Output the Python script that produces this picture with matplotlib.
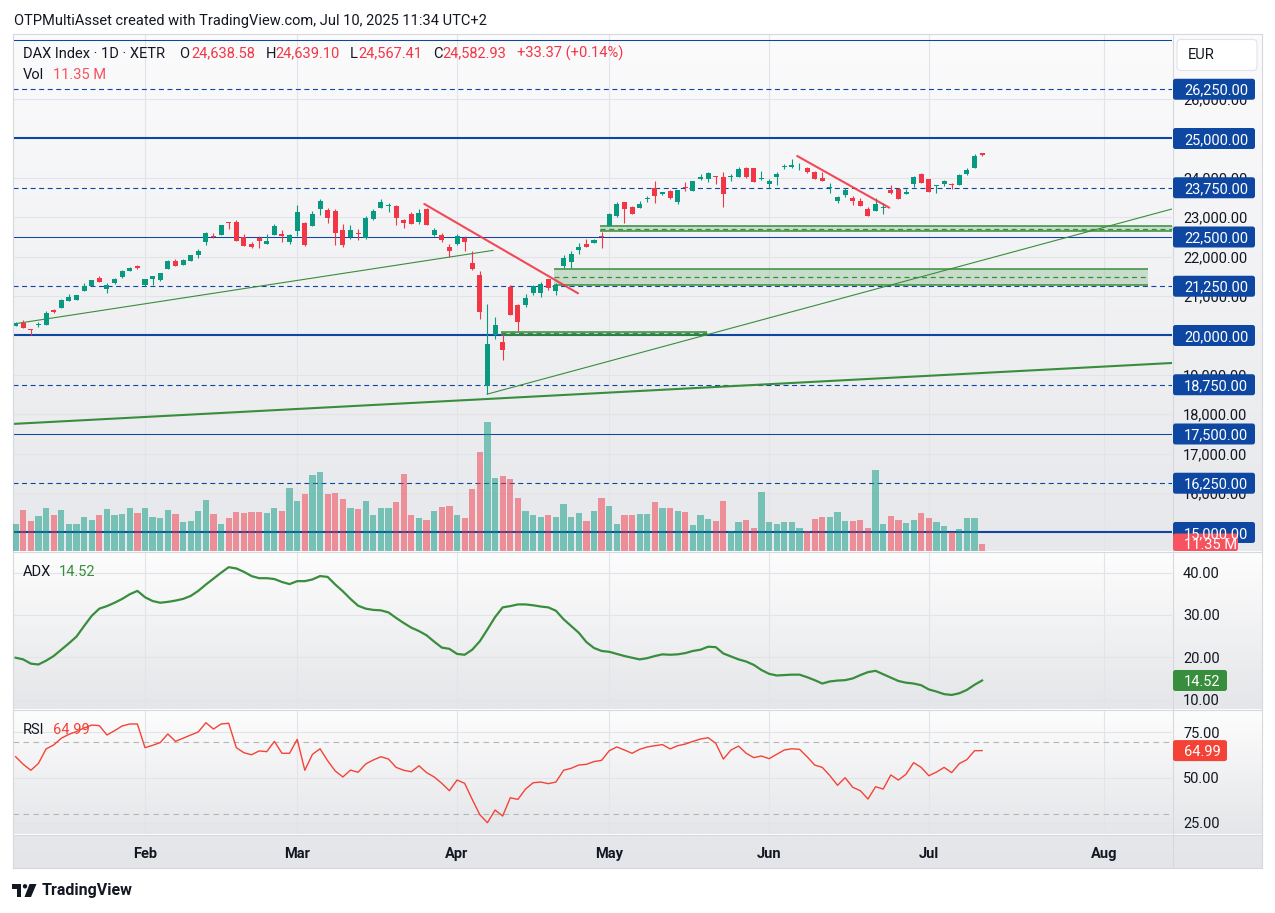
import numpy as np
import pandas as pd
import matplotlib
matplotlib.use('Agg')
import matplotlib.pyplot as plt
from matplotlib.colors import LinearSegmentedColormap
from matplotlib.patches import FancyBboxPatch, Polygon, Circle
from matplotlib.transforms import IdentityTransform
from matplotlib.lines import Line2D

plt.rcParams['font.family'] = ['Roboto', 'DejaVu Sans']

# ---------------- data ----------------
first_day, axis_end = '2025-01-09', '2025-08-29'
holidays = ['2025-04-18', '2025-04-21', '2025-05-01']

opens = [
    20250, 20317, 20140, 20255, 20275, 20648, 20706, 20884, 20909, 21138, 21265, 21468, 21189, 21341, 21493, 21645, 21772,
    21290, 21434, 21409, 21688, 21891, 21789, 21899, 22043, 22381, 22525, 22559, 22860, 22881, 22491, 22314, 22483, 22331, 22559, 22576, 22373,
    22661, 22855, 22788, 23211, 23185, 23160, 22678, 22492, 22584, 22466, 22957, 23245, 23295, 23287, 22932, 23084, 22881, 23211, 22551, 22551, 22255,
    22323, 22483, 21840, 21527, 18727, 20004, 19827, 21223, 20774, 20783, 21071, 21088, 21426, 21139, 21764, 21866, 22179, 22323, 22348, 22520,
    22779, 23033, 23388, 23270, 23245, 23465, 23735, 23583, 23668, 23388, 23750, 23676, 23964, 23964, 24040, 24023, 24015, 24031, 24251, 24251, 23964,
    23854, 24014, 24280, 24268, 24315, 24251, 24158, 24006, 23745, 23414, 23575, 23481, 23422, 23202, 23168, 23240, 23693, 23718, 23592, 23854, 24099,
    23972, 23790, 23845, 23845, 23828, 24090, 24260, 24638.58,
]
highs = [
    20351, 20393, 20165, 20334, 20613, 20673, 20926, 21053, 21036, 21341, 21417, 21510, 21332, 21468, 21662, 21738, 21789,
    21443, 21518, 21595, 21916, 21941, 21941, 22043, 22196, 22627, 22593, 22813, 22872, 22923, 22576, 22381, 22525, 22568, 22830, 22677, 22567,
    23321, 22880, 23151, 23464, 23236, 23220, 22822, 22805, 22712, 23033, 23202, 23465, 23372, 23312, 22957, 23126, 23202, 23225, 22737, 22610, 22323,
    22576, 22534, 22137, 21629, 20800, 20470, 20039, 21274, 20800, 21045, 21290, 21358, 21443, 21341, 22052, 22154, 22348, 22450, 22450, 22619,
    23110, 23380, 23395, 23280, 23414, 23541, 23930, 23651, 23693, 23700, 23888, 23930, 24090, 24141, 24057, 24150, 24091, 24285, 24268, 24260, 24167,
    23964, 24150, 24353, 24480, 24370, 24285, 24167, 24150, 23862, 23549, 23752, 23549, 23481, 23270, 23481, 23371, 23820, 23725, 23710, 24048, 24133,
    23980, 23828, 23947, 23871, 24091, 24260, 24607, 24639.10,
]
lows = [
    20240, 20190, 20013, 20224, 20265, 20580, 20698, 20876, 20900, 21129, 21257, 21358, 21087, 21299, 21468, 21637, 21696,
    21265, 21290, 21392, 21679, 21764, 21781, 21891, 21975, 22297, 22483, 22551, 22703, 22390, 22272, 22229, 22229, 22322, 22551, 22381, 22331,
    22534, 22280, 22780, 23066, 22864, 22297, 22255, 22441, 22424, 22441, 22940, 23237, 23135, 22805, 22737, 22822, 22830, 22805, 22534, 22382, 21984,
    22297, 22154, 21663, 20428, 18507, 19903, 19379, 20510, 20123, 20715, 21028, 20969, 21146, 21028, 21705, 21722, 22077, 22240, 22340, 22230,
    22770, 23020, 22864, 23084, 23228, 23397, 23372, 23566, 23473, 23346, 23676, 23660, 23947, 23888, 23854, 23270, 23921, 24014, 24006, 23896, 23955,
    23752, 23820, 24234, 24251, 24201, 24116, 23970, 23921, 23625, 23363, 23515, 23312, 23287, 23033, 23160, 23084, 23600, 23465, 23583, 23778, 23862,
    23642, 23625, 23795, 23710, 23820, 24065, 24252, 24567.41,
]
closes = [
    20326, 20199, 20130, 20270, 20571, 20605, 20901, 20978, 21028, 21265, 21409, 21366, 21290, 21441, 21637, 21721, 21721,
    21434, 21510, 21586, 21891, 21772, 21925, 22035, 22145, 22601, 22491, 22796, 22850, 22407, 22280, 22246, 22407, 22398, 22779, 22525, 22551,
    23134, 22297, 23075, 23414, 22982, 22610, 22297, 22678, 22575, 22991, 23160, 23389, 23304, 22991, 22864, 22839, 23118, 22813, 22678, 22424, 22154,
    22526, 22373, 21680, 20605, 19785, 20267, 19641, 20529, 20351, 20952, 21257, 21299, 21197, 21282, 21967, 22069, 22255, 22255, 22433, 22509,
    23084, 23345, 23219, 23092, 23329, 23475, 23549, 23634, 23498, 23693, 23740, 23921, 24031, 24133, 24031, 23600, 24023, 24235, 24014, 23904, 23998,
    23921, 24107, 24290, 24336, 24325, 24158, 23980, 23930, 23755, 23515, 23702, 23414, 23295, 23041, 23346, 23250, 23608, 23473, 23651, 24031, 23879,
    23651, 23800, 23921, 23820, 24074, 24209, 24556, 24582.93,
]
volume_m = [
    43.7, 66.4, 48.6, 56.7, 69.7, 58.3, 66.4, 43.7, 43.7, 55.1, 50.2, 58.3, 68.0, 58.3, 59.9, 69.7, 61.6,
    69.7, 55.1, 53.5, 66.4, 59.9, 47.0, 48.6, 64.8, 82.6, 59.9, 43.7, 53.5, 63.2, 61.6, 63.2, 63.2, 61.6, 69.7, 64.8, 102.1,
    81.0, 92.3, 123.1, 128.0, 92.3, 94.0, 84.2, 69.7, 68.0, 81.0, 58.3, 69.7, 69.7, 79.4, 124.7, 58.3, 53.5, 50.2, 64.8, 71.3, 72.9,
    58.3, 53.5, 100.4, 160.4, 209.0, 118.3, 121.5, 116.6, 85.9, 64.8, 58.3, 55.1, 58.3, 55.1, 76.1, 55.1, 61.6, 48.6, 64.8, 85.9,
    72.9, 43.7, 58.3, 58.3, 59.9, 59.9, 79.4, 69.7, 69.7, 64.8, 63.2, 42.1, 58.3, 51.8, 48.6, 81.0, 32.4, 47.0, 50.2, 37.3, 95.6,
    47.0, 43.7, 47.0, 47.0, 37.3, 32.4, 51.8, 55.1, 55.1, 63.2, 48.6, 48.6, 50.2, 37.3, 131.2, 43.7, 56.7, 50.2, 45.4, 50.2, 61.6,
    53.5, 47.0, 40.5, 30.8, 35.6, 53.5, 53.5, 11.35,
]
adx = [
    19.9, 19.5, 18.5, 18.3, 19.2, 20.3, 21.8, 23.3, 24.9, 27.4, 29.8, 31.5, 32.1, 32.9, 33.8, 34.9, 35.7,
    34.2, 33.3, 32.9, 33.1, 33.4, 33.8, 34.5, 35.7, 37.2, 38.6, 40.0, 41.3, 41.0, 40.2, 39.2, 38.7, 38.7, 38.5, 37.8, 37.3,
    38.0, 38.0, 38.4, 39.2, 39.0, 37.2, 35.6, 33.8, 32.2, 31.5, 31.2, 31.1, 30.6, 29.3, 28.1, 27.0, 26.2, 25.2, 23.7, 22.3, 22.0,
    20.8, 20.6, 21.8, 23.8, 26.6, 29.5, 31.8, 32.1, 32.5, 32.5, 32.3, 32.0, 31.8, 31.0, 29.0, 27.4, 25.8, 23.6, 22.2, 21.5,
    21.3, 20.8, 20.3, 19.9, 19.5, 19.8, 20.3, 20.7, 20.6, 20.7, 21.0, 21.5, 21.8, 22.5, 22.4, 20.9, 20.2, 19.5, 19.0, 18.2, 17.0,
    16.1, 15.7, 15.8, 15.9, 15.9, 15.3, 14.6, 13.8, 14.3, 14.5, 14.6, 15.0, 15.8, 16.5, 16.8, 16.0, 15.2, 14.4, 14.0, 13.8, 13.4,
    12.4, 11.9, 11.3, 11.1, 11.5, 12.3, 13.5, 14.52,
]
rsi = [
    61.6, 57.4, 54.1, 57.9, 65.9, 68.1, 71.8, 74.0, 75.5, 77.5, 79.1, 78.8, 73.6, 76.0, 78.6, 79.7, 79.7,
    66.6, 67.9, 69.4, 74.2, 70.1, 71.8, 73.6, 75.3, 80.4, 76.9, 79.7, 80.1, 66.6, 63.8, 62.7, 64.8, 64.4, 70.1, 63.5, 63.5,
    71.2, 54.1, 62.9, 66.0, 59.4, 53.7, 50.4, 54.2, 53.0, 57.6, 59.8, 61.6, 60.3, 55.7, 54.1, 53.3, 56.6, 52.8, 50.4, 46.9, 42.8,
    48.7, 46.9, 38.0, 29.5, 25.1, 32.1, 28.8, 38.9, 38.0, 43.7, 47.2, 47.6, 46.7, 47.6, 54.1, 55.2, 57.0, 57.4, 58.9, 59.6,
    64.9, 67.0, 65.3, 63.5, 65.7, 67.0, 67.7, 68.3, 65.9, 67.7, 68.6, 70.1, 71.4, 72.1, 69.0, 60.3, 65.3, 67.5, 63.5, 61.1, 62.0,
    60.5, 62.9, 65.3, 66.0, 65.7, 61.6, 57.0, 55.7, 51.1, 45.8, 50.0, 44.7, 42.8, 38.2, 45.0, 43.7, 51.5, 48.7, 51.9, 58.3, 55.7,
    51.1, 53.1, 55.7, 52.8, 57.8, 60.0, 64.9, 64.99,
]

levels_solid = [27500, 25000, 22500, 20000, 17500, 15000]
levels_thick = [25000, 20000, 15000]
levels_dashed = [26250, 23750, 21250, 18750, 16250]
level_tags = [26250, 25000, 23750, 22500, 21250, 20000, 18750, 17500, 16250, 15000]
price_ticks = list(range(15000, 27000, 1000))
adx_ticks = [10, 20, 30, 40]
rsi_ticks = [25, 50, 75]
rsi_bands = [70, 30]

# drawings: anchors as (bar position, price)
green_trend_1 = [(-0.3, 20292), (62.8, 22162)]
green_trend_2 = [(61.9, 18508), (151.95, 23211)]
green_trend_long = [(-0.5, 17754), (151.95, 19302)]
red_trend_1 = [(53.7, 23338), (73.9, 21071)]
red_trend_2 = [(102.7, 24556), (114.8, 23244)]
zones = [((76.8, 160.0), (22640, 22772)),
         ((70.8, 148.8), (21274, 21695)),
         ((63.8, 90.85), (20013, 20089))]

legend_ohlc = ['24,638.58', '24,639.10', '24,567.41', '24,582.93']

# ---------------- style ----------------
TEXT = '#131722'
UP, DN = '#089981', '#F23645'
BLUE = '#0D47A1'
GREEN = '#388E3C'
RSI_C = '#F44336'
GRID = '#e2e4e9'
SEP = '#d6d8de'

W, H = 1275, 913
fig = plt.figure(figsize=(W / 100, H / 100), dpi=100)
fig.patch.set_facecolor('white')
ID = IdentityTransform()


def box(x0, y0, x1, y1):
    return [x0 / W, 1 - y1 / H, (x1 - x0) / W, (y1 - y0) / H]


def pane_bg(y0, y1, top, bottom):
    bg = fig.add_axes(box(12.5, y0, 1262, y1), zorder=-5)
    cmap = LinearSegmentedColormap.from_list('g', [bottom, top])
    bg.imshow(np.linspace(1, 0, 64)[:, None], cmap=cmap, aspect='auto', extent=(0, 1, 0, 1),
              vmin=0, vmax=1, interpolation='bilinear')
    bg.set_axis_off()


pane_bg(33.5, 551.5, '#fbfbfc', '#e7e8eb')
pane_bg(551.5, 709.5, '#fdfdfd', '#e5e6e9')
pane_bg(709.5, 834.5, '#fdfdfd', '#e5e6e9')
pane_bg(834.5, 867.5, '#e6e7ea', '#e4e5e8')

# calendar
cal = pd.bdate_range(first_day, axis_end)
cal = cal[~cal.isin(pd.to_datetime(holidays))]
n = len(closes)
x = np.arange(n)
per = cal.to_period('M')
month_pos = [i for i in range(1, len(cal)) if per[i] != per[i - 1]]
month_lab = [cal[i].strftime('%b') for i in month_pos]

o, h, l, c = (np.array(v, dtype=float) for v in (opens, highs, lows, closes))
col = np.where(c >= o, UP, DN)

# ---------------- main pane ----------------
ax = fig.add_axes(box(12.5, 35, 1172, 551), zorder=1)
ax.patch.set_visible(False)
ax.set_xlim(-0.41, 151.95)
ax.set_ylim(14530, 27627)

for lv in levels_solid:
    ax.axhline(lv, color=BLUE, lw=1.5 if lv in levels_thick else 0.75, zorder=2)
for lv in levels_dashed:
    ax.axhline(lv, color=BLUE, lw=0.8, ls=(0, (4.5, 3.2)), zorder=2)

for (xa, xb), (ya, yb) in zones:
    ax.fill_between([xa, xb], ya, yb, color=GREEN, alpha=0.22, lw=0, zorder=3)
    ax.hlines([ya, yb], xa, xb, color=GREEN, lw=1.1, zorder=3)
    ax.hlines((ya + yb) / 2, xa, xb, color=GREEN, lw=0.9, ls=(0, (4, 3)), zorder=3)

for line, lw in [(green_trend_1, 0.8), (green_trend_2, 0.8), (green_trend_long, 1.5)]:
    ax.plot(*zip(*line), color=GREEN, lw=lw, zorder=3, solid_capstyle='butt')
for line in (red_trend_1, red_trend_2):
    ax.plot(*zip(*line), color=DN, lw=1.5, zorder=6, alpha=0.9, solid_capstyle='round')

ax.vlines(x, l, h, colors=col, lw=0.8, zorder=4)
ax.bar(x, np.maximum(np.abs(c - o), 25), bottom=np.minimum(o, c), width=0.66,
       color=col, lw=0, zorder=5)

axv = ax.twinx()
axv.set_zorder(2)
axv.set_ylim(0, 836)
axv.bar(x, volume_m, width=0.82, color=col, alpha=0.5, lw=0)
axv.set_axis_off()

# ---------------- ADX / RSI panes ----------------
ax_adx = fig.add_axes(box(12.5, 552, 1172, 709), sharex=ax, zorder=1)
ax_adx.patch.set_visible(False)
ax_adx.set_ylim(7.78, 44.89)
ax_adx.plot(x, adx, color=GREEN, lw=1.6, solid_joinstyle='round')

ax_rsi = fig.add_axes(box(12.5, 710, 1172, 834), sharex=ax, zorder=1)
ax_rsi.patch.set_visible(False)
ax_rsi.set_ylim(18.86, 87.44)
for b in rsi_bands:
    ax_rsi.axhline(b, color='#b2b5be', lw=0.8, ls=(0, (5, 4)))
ax_rsi.plot(x, rsi, color=RSI_C, lw=1.0)

for a, ticks in [(ax, price_ticks), (ax_adx, adx_ticks), (ax_rsi, rsi_ticks)]:
    a.yaxis.tick_right()
    fmt = '{:,.2f}'
    a.set_yticks(ticks, labels=[fmt.format(t) for t in ticks])
    a.tick_params(axis='y', length=0, pad=8, labelsize=10.5, labelcolor=TEXT)
    a.tick_params(axis='x', length=0, labelbottom=False)
    a.grid(True, color=GRID, lw=0.8)
    a.set_axisbelow(True)
    for s in a.spines.values():
        s.set_visible(False)

ax.set_xticks(month_pos, labels=month_lab)
ax_rsi.tick_params(axis='x', labelbottom=True, pad=9, labelsize=10.5, labelcolor=TEXT)
for lab in ax_rsi.get_xticklabels():
    lab.set_fontweight(600)

# separators and frame
def hline_px(y, x0=12.5, x1=1262):
    fig.add_artist(Line2D([x0, x1], [H - y, H - y], transform=ID, color=SEP, lw=0.8))

for yy in (33.5, 551.5, 709.5, 834.5, 867.5):
    hline_px(yy)
for xx in (12.5, 1172.5, 1262):
    fig.add_artist(Line2D([xx, xx], [H - 33.5, H - 867.5], transform=ID, color=SEP, lw=0.8))


# ---------------- price-scale tags ----------------
def tag(yd, text, fc, x1=1255, hgt=21, floor=None):
    x0 = 1173
    lo, hi = yd - hgt / 2, yd + hgt / 2
    if floor is not None:
        lo = max(lo, floor)
    fig.add_artist(FancyBboxPatch((x0, lo), x1 - x0, hi - lo, boxstyle='round,pad=0,rounding_size=2.5',
                                  transform=ID, fc=fc, ec='none', zorder=10))
    fig.text(x0 + 11, yd, text, transform=ID, color='white', fontsize=10.5,
             va='center_baseline', ha='left', zorder=11)


for lv in level_tags:
    tag(ax.transData.transform((0, lv))[1], f'{lv:,.2f}', BLUE)
yv = axv.transData.transform((0, volume_m[-1]))[1]
tag(yv, f'{volume_m[-1]:.2f} M', '#F7525F', x1=1238, floor=H - 551)
tag(ax_adx.transData.transform((0, adx[-1]))[1], f'{adx[-1]:.2f}', GREEN, x1=1227)
tag(ax_rsi.transData.transform((0, rsi[-1]))[1], f'{rsi[-1]:.2f}', RSI_C, x1=1227)

fig.add_artist(FancyBboxPatch((1177, H - 70.5), 80, 31, boxstyle='round,pad=0,rounding_size=4',
                              transform=ID, fc='white', ec='#e0e3eb', lw=0.8, zorder=10))
fig.text(1188, H - 55, 'EUR', transform=ID, color=TEXT, fontsize=10.5, va='center', zorder=11)

# ---------------- legend texts ----------------
def txt(xp, yp, s, color=TEXT, size=10.5, weight='normal'):
    fig.text(xp, H - yp, s, transform=ID, color=color, fontsize=size, va='center',
             fontweight=weight, zorder=12)


txt(13.5, 20.5, 'OTPMultiAsset created with TradingView.com, Jul 10, 2025 11:34 UTC+2')
txt(23, 53.5, 'DAX Index · 1D · XETR')
for key, xk, val, xv in zip('OHLC', (179.6, 265.3, 350, 432.7), legend_ohlc, (191.8, 275.5, 358, 442)):
    txt(xk, 53.5, key)
    txt(xv, 53.5, val, DN)
txt(517, 53.5, '+33.37 (+0.14%)', DN)
txt(23, 75, 'Vol')
txt(53, 75, f'{volume_m[-1]:.2f} M', '#F7525F')
txt(23, 572, 'ADX')
txt(59, 572, f'{adx[-1]:.2f}', GREEN)
txt(23, 729.5, 'RSI')
txt(52.7, 729.5, f'{rsi[-1]:.2f}', RSI_C)

# TradingView logo
fig.add_artist(Polygon([(12, H - 884), (21, H - 884), (21, H - 897), (16.5, H - 897),
                        (16.5, H - 888.5), (12, H - 888.5)], closed=True, transform=ID, fc=TEXT, ec='none'))
fig.add_artist(Circle((25, H - 886.3), 2.2, transform=ID, fc=TEXT, ec='none'))
fig.add_artist(Polygon([(29.5, H - 884), (36.5, H - 884), (31, H - 897), (24.5, H - 897)],
                       closed=True, transform=ID, fc=TEXT, ec='none'))
txt(42, 890.5, 'TradingView', size=11.5, weight='semibold')

fig.savefig('out.png', dpi=100)
